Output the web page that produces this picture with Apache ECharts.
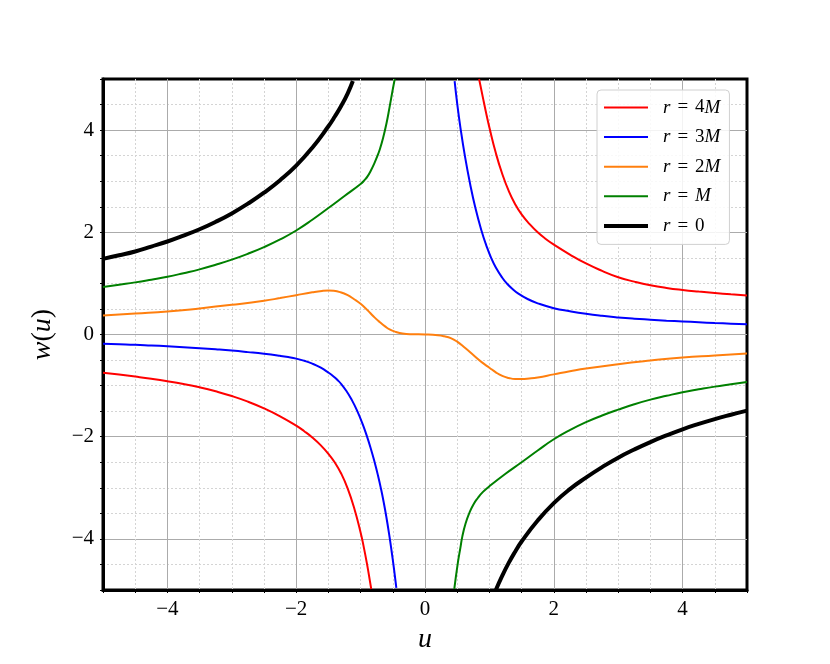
<!DOCTYPE html>
<html>
<head>
<meta charset="utf-8">
<script src="https://cdn.jsdelivr.net/npm/echarts@6/dist/echarts.min.js"></script>
<style>
  html, body { margin: 0; padding: 0; background: #fff; }
  #chart { width: 830px; height: 664px; }
</style>
</head>
<body>
<div id="chart"></div>
<script>
// tick labels shown on both axes
const tickValues = [-4, -2, 0, 2, 4]

// r = 4M (two branches)
const r4mLeft = [[-5, -0.75], [-4.75, -0.785], [-4.5, -0.824], [-4.25, -0.866], [-4, -0.914], [-3.75, -0.969],
  [-3.5, -1.034], [-3.25, -1.112], [-3, -1.204], [-2.75, -1.314], [-2.5, -1.446], [-2.25, -1.601], [-2, -1.784],
  [-1.875, -1.893], [-1.75, -2.015], [-1.625, -2.16], [-1.5, -2.335], [-1.4, -2.505], [-1.3, -2.725],
  [-1.2, -3.015], [-1.1, -3.395], [-1.0, -3.875], [-0.95, -4.165], [-0.9, -4.495], [-0.85, -4.865], [-0.835, -4.98]]
const r4mRight = [[0.84, 5.0], [0.9, 4.63], [0.95, 4.33], [1.0, 4.05], [1.1, 3.55], [1.2, 3.14], [1.3, 2.81],
  [1.4, 2.55], [1.5, 2.35], [1.625, 2.16], [1.75, 2.0], [1.875, 1.87], [2.0, 1.76], [2.25, 1.565], [2.5, 1.39],
  [2.75, 1.245], [3.0, 1.12], [3.25, 1.035], [3.5, 0.965], [3.75, 0.912], [4.0, 0.872], [4.25, 0.84],
  [4.5, 0.812], [4.75, 0.786], [5.0, 0.762]]

// r = 3M
const r3mLeft = [[-5, -0.18], [-4.75, -0.19], [-4.5, -0.2], [-4.25, -0.215], [-4, -0.23], [-3.75, -0.248],
  [-3.5, -0.268], [-3.25, -0.29], [-3, -0.315], [-2.75, -0.345], [-2.5, -0.378], [-2.25, -0.418],
  [-2.125, -0.442], [-2.0, -0.472], [-1.875, -0.515], [-1.75, -0.57], [-1.625, -0.645], [-1.5, -0.745],
  [-1.42, -0.82], [-1.36, -0.89], [-1.3, -0.97], [-1.22, -1.106], [-1.14, -1.274], [-1.06, -1.474],
  [-0.98, -1.714], [-0.91, -1.959], [-0.84, -2.239], [-0.78, -2.509], [-0.73, -2.759], [-0.68, -3.039],
  [-0.64, -3.291], [-0.6, -3.571], [-0.56, -3.883], [-0.52, -4.227], [-0.48, -4.603], [-0.445, -4.96]]
const r3mRight = [[0.46, 4.96], [0.5, 4.52], [0.55, 4.05], [0.62, 3.49], [0.7, 2.95], [0.78, 2.49], [0.88, 2.02],
  [0.95, 1.75], [1.03, 1.49], [1.1, 1.31], [1.2, 1.11], [1.27, 1.0], [1.35, 0.9], [1.45, 0.8], [1.6, 0.69],
  [1.75, 0.61], [2.0, 0.515], [2.25, 0.455], [2.5, 0.405], [2.75, 0.366], [3.0, 0.335], [3.25, 0.31],
  [3.5, 0.29], [3.75, 0.271], [4.0, 0.255], [4.25, 0.24], [4.5, 0.225], [4.75, 0.212], [5.0, 0.2]]

// r = 2M (continuous)
const r2m = [[-5, 0.37], [-4.5, 0.41], [-4, 0.45], [-3.5, 0.51], [-3, 0.58], [-2.5, 0.66], [-2.25, 0.713],
  [-2, 0.77], [-1.75, 0.825], [-1.6, 0.852], [-1.5, 0.86], [-1.42, 0.855], [-1.32, 0.83], [-1.2, 0.77],
  [-1.1, 0.69], [-1.0, 0.6], [-0.92, 0.51], [-0.85, 0.42], [-0.78, 0.33], [-0.7, 0.24], [-0.62, 0.16],
  [-0.55, 0.1], [-0.45, 0.05], [-0.35, 0.02], [-0.2, 0.005], [0, 0], [0.2, -0.015], [0.3, -0.035], [0.4, -0.07],
  [0.5, -0.14], [0.62, -0.26], [0.75, -0.4], [0.88, -0.54], [1.0, -0.65], [1.1, -0.74], [1.2, -0.81],
  [1.3, -0.85], [1.4, -0.87], [1.5, -0.87], [1.62, -0.86], [1.75, -0.84], [2.0, -0.78], [2.25, -0.72],
  [2.5, -0.665], [3.0, -0.58], [3.5, -0.51], [4.0, -0.45], [4.5, -0.41], [5.0, -0.37]]

// r = M
const rmLeft = [[-5, 0.93], [-4.75, 0.975], [-4.5, 1.02], [-4.25, 1.073], [-4, 1.13], [-3.75, 1.2], [-3.5, 1.275],
  [-3.25, 1.365], [-3, 1.465], [-2.75, 1.58], [-2.5, 1.71], [-2.25, 1.86], [-2, 2.035], [-1.75, 2.245],
  [-1.5, 2.475], [-1.25, 2.71], [-1.0, 2.945], [-0.94, 3.02], [-0.89, 3.1], [-0.84, 3.21], [-0.79, 3.34],
  [-0.74, 3.49], [-0.7, 3.63], [-0.65, 3.85], [-0.6, 4.12], [-0.55, 4.45], [-0.5, 4.8], [-0.47, 5.0]]
const rmRight = [[0.455, -4.98], [0.51, -4.47], [0.55, -4.17], [0.58, -3.95], [0.63, -3.7], [0.69, -3.49],
  [0.75, -3.33], [0.82, -3.2], [0.9, -3.08], [1.0, -2.97], [1.25, -2.725], [1.5, -2.5], [1.75, -2.27],
  [2.0, -2.05], [2.25, -1.87], [2.5, -1.715], [2.75, -1.585], [3.0, -1.47], [3.25, -1.365], [3.5, -1.275],
  [3.75, -1.2], [4.0, -1.13], [4.25, -1.073], [4.5, -1.02], [4.75, -0.975], [5.0, -0.93]]

// r = 0
const r0Left = [[-5, 1.48], [-4.75, 1.55], [-4.5, 1.625], [-4.25, 1.72], [-4, 1.82], [-3.75, 1.935], [-3.5, 2.06],
  [-3.25, 2.205], [-3, 2.37], [-2.75, 2.56], [-2.5, 2.775], [-2.25, 3.02], [-2, 3.305], [-1.75, 3.655],
  [-1.5, 4.075], [-1.4, 4.265], [-1.3, 4.475], [-1.2, 4.72], [-1.12, 4.96]]
const r0Right = [[1.1, -5.0], [1.2, -4.72], [1.3, -4.47], [1.4, -4.25], [1.5, -4.05], [1.75, -3.64], [2.0, -3.3],
  [2.25, -3.025], [2.5, -2.8], [2.75, -2.595], [3.0, -2.41], [3.25, -2.25], [3.5, -2.105], [3.75, -1.975],
  [4.0, -1.855], [4.25, -1.75], [4.5, -1.655], [4.75, -1.57], [5.0, -1.49]]

const FONT = 'Liberation Serif'
const gap = ['-', '-']

const legendText = {
  'r = 4M': '{f|r}{e|=}{n|4}{i|M}',
  'r = 3M': '{f|r}{e|=}{n|3}{i|M}',
  'r = 2M': '{f|r}{e|=}{n|2}{i|M}',
  'r = M': '{f|r}{e|=}{i|M}',
  'r = 0': '{f|r}{e|=}{n|0}'
}
const thinIcon = 'path://M0,0L44,0L44,2L0,2Z'
const thickIcon = 'path://M0,0L44,0L44,4L0,4Z'

function tickLabel(v) {
  if (tickValues.indexOf(v) < 0) return ''
  return (v < 0 ? '\u2212' : '') + Math.abs(v)
}

function line(name, data, color, width) {
  return {
    name: name,
    type: 'line',
    xAxisIndex: 1,
    yAxisIndex: 1,
    data: data,
    symbol: 'none',
    smooth: 0.5,
    connectNulls: false,
    clip: true,
    lineStyle: { color: color, width: width },
    itemStyle: { color: color }
  }
}

// minor grid (every 0.5) and major grid (every 2, via colour cycle on a step of 1)
function minorAxis(pos) {
  return {
    type: 'value', min: -5, max: 5, interval: 0.5, position: pos,
    axisLine: { show: false, onZero: false },
    axisTick: { show: true, length: 3, lineStyle: { color: '#000', width: 1 } },
    axisLabel: { show: false },
    splitLine: { show: true, showMinLine: false, showMaxLine: false,
      lineStyle: { color: '#d4d4d4', width: 1, type: [2, 2] } }
  }
}
function majorAxis(pos, extra) {
  return Object.assign({
    type: 'value', min: -5, max: 5, interval: 1, position: pos,
    axisLine: { show: true, onZero: false, lineStyle: { color: '#000', width: 3 } },
    axisTick: { show: false },
    axisLabel: { formatter: tickLabel, fontFamily: FONT, fontSize: 21, color: '#000', margin: 9 },
    splitLine: { show: true, showMinLine: false, showMaxLine: false,
      lineStyle: { color: ['#ababab', 'rgba(0,0,0,0)'], width: 1 } }
  }, extra)
}

const chart = echarts.init(document.getElementById('chart'))
chart.setOption({
  animation: false,
  backgroundColor: '#fff',
  grid: { left: 103, right: 83, top: 79, bottom: 74, show: true, borderColor: '#000', borderWidth: 3 },
  legend: {
    orient: 'vertical',
    left: 597,
    top: 90,
    padding: [8, 9, 9, 7],
    itemWidth: 44,
    itemHeight: 19,
    itemGap: 10.6,
    backgroundColor: 'rgba(255,255,255,0.85)',
    borderColor: '#d0d0d0',
    borderWidth: 1,
    borderRadius: 4,
    data: [
      { name: 'r = 4M', icon: thinIcon },
      { name: 'r = 3M', icon: thinIcon },
      { name: 'r = 2M', icon: thinIcon },
      { name: 'r = M', icon: thinIcon },
      { name: 'r = 0', icon: thickIcon }
    ],
    formatter: name => legendText[name],
    textStyle: {
      fontFamily: FONT, fontSize: 19, color: '#000',
      rich: {
        f: { fontFamily: FONT, fontSize: 19, fontStyle: 'italic', padding: [0, 0, 0, 10], lineHeight: 19 },
        e: { fontFamily: FONT, fontSize: 19, padding: [0, 7, 0, 7], lineHeight: 19 },
        n: { fontFamily: FONT, fontSize: 19, lineHeight: 19 },
        i: { fontFamily: FONT, fontSize: 19, fontStyle: 'italic', lineHeight: 19 }
      }
    }
  },
  xAxis: [
    minorAxis('bottom'),
    majorAxis('bottom', {
      name: 'u', nameLocation: 'middle', nameGap: 36,
      nameTextStyle: { fontFamily: FONT, fontSize: 28, fontStyle: 'italic', color: '#000' }
    })
  ],
  yAxis: [
    minorAxis('left'),
    majorAxis('left', {
      name: '{i|w}{n|(}{i|u}{n|)}', nameLocation: 'middle', nameGap: 46,
      nameTextStyle: {
        color: '#000',
        rich: {
          i: { fontFamily: FONT, fontSize: 28, fontStyle: 'italic' },
          n: { fontFamily: FONT, fontSize: 28 }
        }
      }
    })
  ],
  series: [
    line('r = 4M', r4mLeft.concat([gap], r4mRight), '#ff0000', 2),
    line('r = 3M', r3mLeft.concat([gap], r3mRight), '#0000ff', 2),
    line('r = 2M', r2m, '#ff7f0e', 2),
    line('r = M', rmLeft.concat([gap], rmRight), '#008000', 2),
    line('r = 0', r0Left.concat([gap], r0Right), '#000000', 4)
  ]
})
</script>
</body>
</html>
